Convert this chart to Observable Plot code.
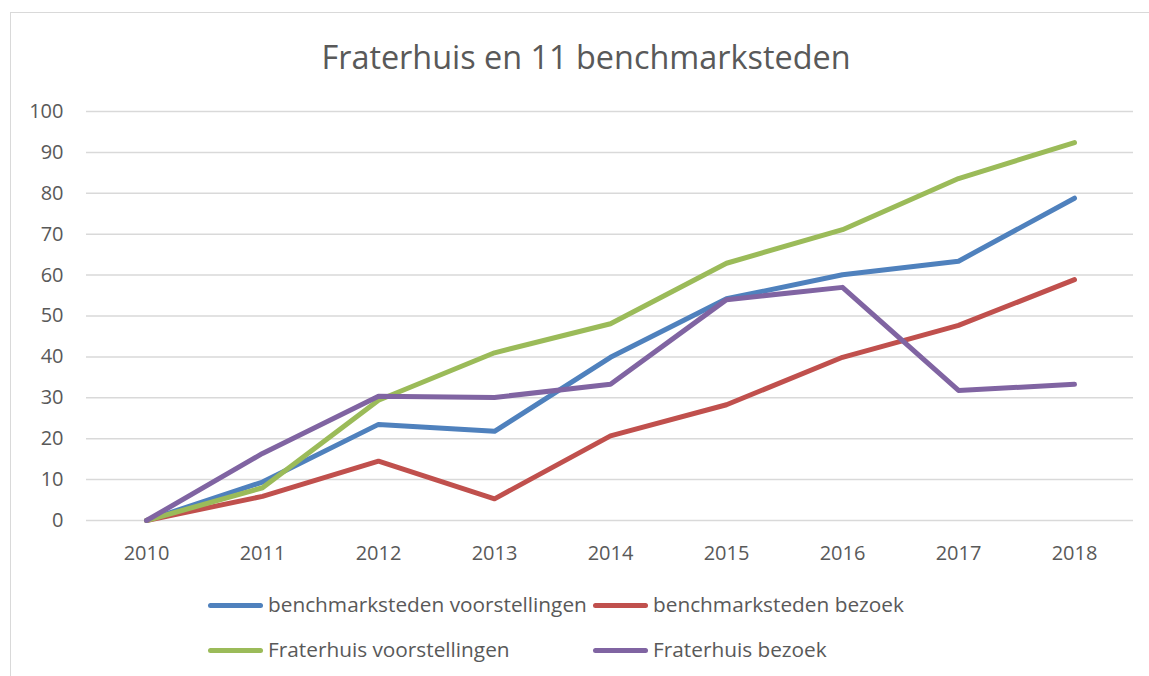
<!DOCTYPE html>
<html>
<head>
<meta charset="utf-8">
<script src="https://cdn.jsdelivr.net/npm/d3@7"></script>
<script src="https://cdn.jsdelivr.net/npm/@observablehq/plot@0.6"></script>
<style>
  html, body { margin: 0; padding: 0; background: #fff; }
  #wrap { position: relative; width: 1149px; height: 676px; overflow: hidden; font-family: "Open Sans", Lato, sans-serif; color: #595959; }
  #frame { position: absolute; left: 10px; top: 12px; width: 1200px; height: 700px; border: 1.5px solid #d9d9d9; box-sizing: border-box; }
  #title { position: absolute; left: 0; width: 1172px; top: 35px; text-align: center; font-size: 32.4px; line-height: 42px; color: #595959; }
  #chart { position: absolute; left: 0; top: 0; }
  .leg { position: absolute; font-size: 20.8px; line-height: 26px; color: #595959; white-space: nowrap; }
  .sw { display: inline-block; width: 55px; height: 5px; border-radius: 3px; vertical-align: middle; margin-right: 5px; position: relative; top: -1px; }
</style>
</head>
<body>
<div id="wrap">
  <div id="frame"></div>
  <div id="chart"></div>
  <div id="title">Fraterhuis en 11 benchmarksteden</div>
  <div id="legend"></div>
</div>
<script>
const years = ["2010","2011","2012","2013","2014","2015","2016","2017","2018"];
const seriesNames = ["benchmarksteden voorstellingen","benchmarksteden bezoek","Fraterhuis voorstellingen","Fraterhuis bezoek"];
const benchVoorstellingen = [0, 9.4, 23.5, 21.8, 39.9, 54.2, 60.1, 63.4, 78.8];
const benchBezoek = [0, 5.9, 14.5, 5.3, 20.7, 28.3, 39.9, 47.7, 58.9];
const fraterVoorstellingen = [0, 8.0, 29.4, 41.0, 48.1, 62.9, 71.1, 83.6, 92.4];
const fraterBezoek = [0, 16.4, 30.4, 30.1, 33.3, 54.0, 57.0, 31.8, 33.3];
const yTicks = [0,10,20,30,40,50,60,70,80,90,100];
const colors = ["#4f81bd","#c0504d","#9bbb59","#8064a2"];

const allSeries = [benchVoorstellingen, benchBezoek, fraterVoorstellingen, fraterBezoek];
const data = [];
allSeries.forEach((vals, i) => vals.forEach((v, j) => data.push({series: seriesNames[i], year: years[j], value: v})));

const plot = Plot.plot({
  width: 1149,
  height: 676,
  marginLeft: 86,
  marginRight: 16,
  marginTop: 111,
  marginBottom: 156,
  style: {fontFamily: "'Open Sans', Lato, sans-serif", fontSize: "20px", color: "#595959", background: "transparent"},
  x: {type: "point", domain: years, padding: 0.5, label: null, tickSize: 0, tickPadding: 25},
  y: {domain: [0, 100], ticks: yTicks, label: null, tickSize: 0, tickPadding: 23},
  color: {domain: seriesNames, range: colors},
  marks: [
    Plot.ruleY(yTicks, {stroke: "#d9d9d9", strokeWidth: 1.5}),
    Plot.axisX({tickSize: 0, tickPadding: 25, fontSize: 20, fill: "#595959"}),
    Plot.axisY({ticks: yTicks, tickSize: 0, tickPadding: 23, fontSize: 20, fill: "#595959"}),
    Plot.line(data, {x: "year", y: "value", z: "series", stroke: "series", strokeWidth: 5, strokeLinecap: "round", strokeLinejoin: "round"})
  ]
});
document.getElementById("chart").appendChild(plot);

const legend = document.getElementById("legend");
seriesNames.forEach((name, i) => {
  const d = document.createElement("div");
  d.className = "leg";
  d.style.left = (i % 2 === 0 ? 208 : 593) + "px";
  d.style.top = (i < 2 ? 591 : 636) + "px";
  const sw = document.createElement("span");
  sw.className = "sw";
  sw.style.background = colors[i];
  d.appendChild(sw);
  d.appendChild(document.createTextNode(name));
  legend.appendChild(d);
});
</script>
</body>
</html>
